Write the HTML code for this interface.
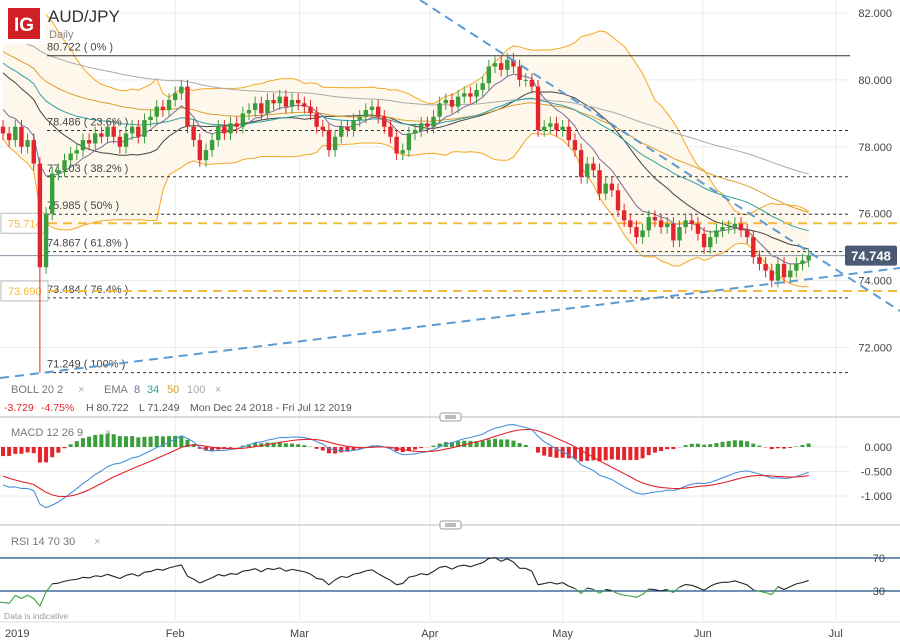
<!DOCTYPE html>
<html><head><meta charset="utf-8"><style>
body{margin:0;background:#fff;font-family:"Liberation Sans",sans-serif;}
svg{display:block}
text{font-family:"Liberation Sans",sans-serif;}
</style></head><body>
<svg id="c" width="900" height="641" viewBox="0 0 900 641"></svg>
<script>
const preHistory=[81.9,81.7,81.8,81.5,81.3,81.6,81.2,81.0,81.1,80.8,80.6,80.9,80.5,80.2,80.4,80.0,79.7,79.5,79.2,79.0,78.8,78.6];
const closes=[78.4,78.2,78.6,78.0,78.2,77.5,74.4,76.0,77.2,77.3,77.6,77.8,77.9,78.2,78.1,78.4,78.3,78.6,78.3,78.0,78.4,78.6,78.3,78.8,78.9,79.2,79.1,79.4,79.6,79.8,78.6,78.2,77.6,77.9,78.2,78.6,78.4,78.7,78.6,79.0,79.1,79.3,79.0,79.4,79.3,79.5,79.2,79.4,79.3,79.2,79.0,78.6,78.5,77.9,78.3,78.6,78.5,78.8,78.9,79.1,79.2,78.9,78.6,78.3,77.8,77.9,78.4,78.5,78.7,78.6,78.9,79.3,79.4,79.2,79.5,79.6,79.5,79.7,79.9,80.4,80.5,80.3,80.6,80.4,80.0,80.0,79.8,78.5,78.6,78.7,78.5,78.6,78.2,77.9,77.1,77.5,77.3,76.6,76.9,76.7,76.1,75.8,75.6,75.3,75.5,75.9,75.8,75.6,75.7,75.2,75.6,75.8,75.7,75.4,75.0,75.3,75.5,75.6,75.6,75.7,75.5,75.3,74.7,74.5,74.3,74.0,74.5,74.1,74.3,74.5,74.6,74.748];
const firstOpen=78.6;
const crashIndex=6, crashLow=71.249;
const fibLevels=[80.722,78.486,77.103,75.985,74.867,73.484,71.249];
const fibLabels=["80.722 ( 0% )","78.486 ( 23.6% )","77.103 ( 38.2% )","75.985 ( 50% )","74.867 ( 61.8% )","73.484 ( 76.4% )","71.249 ( 100% )"];
const orangeLevels=[75.714,73.690];
const priceTicks=[82,80,78,76,74,72];
const macdTicks=[0,-0.5,-1];
const monthLabels=["2019","Feb","Mar","Apr","May","Jun","Jul"];
const monthIdx=[-0.4,28,48.2,69.4,91,113.8,135.4];
const lastPrice=74.748;

const S=document.getElementById('c');const NS="http://www.w3.org/2000/svg";
function el(t,a,p){const e=document.createElementNS(NS,t);for(const k in a)e.setAttribute(k,a[k]);(p||S).appendChild(e);return e;}
const X=i=>3+i*6.15;
const Y=v=>13+(82-v)*33.45;
const MY=v=>447-v*49;
const RY=v=>591-(v-30)*33/40;

const grid=el('g',{});
priceTicks.forEach(v=>el('line',{x1:0,x2:850,y1:Y(v),y2:Y(v),stroke:'#ececec'},grid));
macdTicks.forEach(v=>el('line',{x1:0,x2:850,y1:MY(v),y2:MY(v),stroke:'#ececec'},grid));
monthIdx.forEach((m,k)=>{if(k>0)el('line',{x1:X(m),x2:X(m),y1:0,y2:620,stroke:'#ececec'},grid);});

const all=preHistory.concat(closes);const P=preHistory.length;
function ema(arr,n){const k=2/(n+1);let r=[],e=arr[0];arr.forEach(v=>{e=v*k+e*(1-k);r.push(e);});return r;}
function path(vals,fy,start){let d='';vals.forEach((v,i)=>{if(i<start||v==null)return;d+=(d?'L':'M')+X(i-P).toFixed(1)+','+fy(v).toFixed(1);});return d;}
const sma=[],up=[],lo=[];
all.forEach((v,i)=>{const s=all.slice(Math.max(0,i-19),i+1);const m=s.reduce((a,b)=>a+b,0)/s.length;const sd=Math.sqrt(s.reduce((a,b)=>a+(b-m)*(b-m),0)/s.length);sma.push(m);up.push(m+2*sd);lo.push(m-2*sd);});
let band='';for(let i=P;i<all.length;i++)band+=(band?'L':'M')+X(i-P)+','+Y(up[i]);for(let i=all.length-1;i>=P;i--)band+='L'+X(i-P)+','+Y(lo[i]);
const clipR=el('clipPath',{id:'mc'});el('rect',{x:0,y:0,width:850,height:378},clipR);
const ind=el('g',{'clip-path':'url(#mc)'});
el('path',{d:band+'Z',fill:'#fef8ec',stroke:'none'},ind);
el('path',{d:path(up,Y,P),fill:'none',stroke:'#f5a623','stroke-width':1},ind);
el('path',{d:path(lo,Y,P),fill:'none',stroke:'#f5a623','stroke-width':1},ind);
el('path',{d:path(sma,Y,P),fill:'none',stroke:'#444','stroke-width':1},ind);
[[100,'#aaaaaa'],[50,'#d9a030'],[34,'#2aa0a0'],[8,'#7a6a9a']].forEach(([n,c])=>{const p=el('path',{d:path(ema(all,n),Y,P),fill:'none',stroke:c,'stroke-width':1},ind);});

fibLevels.forEach((v,k)=>{const l=el('line',{x1:47,x2:850,y1:Y(v),y2:Y(v),stroke:'#333','stroke-dasharray':k==0?'':'3,3','stroke-width':1});
const t=el('text',{x:47,y:Y(v)-5,'font-size':11,fill:'#444'});t.textContent=fibLabels[k];});
orangeLevels.forEach(v=>{const l=el('line',{x1:48,x2:900,y1:Y(v),y2:Y(v),stroke:'#f5b942','stroke-dasharray':'9,6','stroke-width':2});
const r=el('rect',{x:1,y:Y(v)-10,width:47,height:20,fill:'#fff',stroke:'#bbb'});
const t=el('text',{x:8,y:Y(v)+4,'font-size':11,fill:'#f5b942'});t.textContent=v.toFixed(3);});
el('line',{x1:0,x2:850,y1:Y(lastPrice),y2:Y(lastPrice),stroke:'#8a94a6','stroke-width':1});

const cg=el('g',{});
closes.forEach((c,i)=>{const o=i?closes[i-1]:firstOpen;const col=c>=o?'#3a9e3a':'#e3242b';const hi=Math.max(o,c)+0.2;const lw=i==crashIndex?crashLow:Math.min(o,c)-0.2;
const w=el('line',{x1:X(i),x2:X(i),y1:Y(hi),y2:Y(lw),stroke:col,'stroke-width':1},cg);
const b=el('rect',{x:X(i)-2.2,y:Y(Math.max(o,c)),width:4.4,height:Math.max(1,Math.abs(Y(o)-Y(c))),fill:col},cg);});

const t1=el('line',{x1:420,y1:0,x2:900,y2:311,stroke:'#5b9bd5','stroke-width':2,'stroke-dasharray':'9,6'});
const t2=el('line',{x1:0,y1:378,x2:900,y2:268,stroke:'#5b9bd5','stroke-width':2,'stroke-dasharray':'9,6'});

priceTicks.forEach(v=>{const t=el('text',{x:892,y:Y(v)+4,'font-size':11,fill:'#444','text-anchor':'end'});t.textContent=v.toFixed(3);});
const pb=el('rect',{x:845,y:Y(lastPrice)-10,width:52,height:20,rx:2,fill:'#4a5a72'});
const pt=el('text',{x:871,y:Y(lastPrice)+5,'font-size':13,'font-weight':'bold',fill:'#fff','text-anchor':'middle'});pt.textContent=lastPrice.toFixed(3);

el('rect',{x:0,y:0,width:46,height:44,fill:'#fff'});
const lg=el('rect',{x:8,y:8,width:32,height:31,fill:'#d01f25'});
const lt=el('text',{x:24,y:31,'font-size':19,'font-weight':'bold',fill:'#fff','text-anchor':'middle'});lt.textContent='IG';
const ti=el('text',{x:48,y:22,'font-size':17,fill:'#333'});ti.textContent='AUD/JPY';
const da=el('text',{x:49,y:38,'font-size':11,fill:'#888'});da.textContent='Daily';

function tx(x,y,s,c,n,sz){const t=el('text',{x:x,y:y,'font-size':sz||11,fill:c});t.textContent=s;return t;}
tx(11,393,'BOLL  20  2','#777','boll-legend');tx(78,393,'×','#aaa','boll-remove');
tx(104,393,'EMA','#777','ema-legend');tx(134,393,'8','#7a6a9a','ema8-legend');tx(147,393,'34','#2aa0a0','ema34-legend');tx(167,393,'50','#d9a030','ema50-legend');tx(187,393,'100','#aaa','ema100-legend');tx(215,393,'×','#aaa','ema-remove');
tx(4,411,'-3.729','#e3242b','change',10.5);tx(41,411,'-4.75%','#e3242b','change-pct',10.5);tx(86,411,'H 80.722','#555','high',10.5);tx(139,411,'L 71.249','#555','low',10.5);tx(190,411,'Mon Dec 24 2018 - Fri Jul 12 2019','#555','date-range',10.5);

[417,525].forEach(y=>{el('line',{x1:0,x2:900,y1:y,y2:y,stroke:'#bbb'});const h=el('rect',{x:440,y:y-4,width:21,height:8,rx:2,fill:'#fff',stroke:'#999'});el('line',{x1:445,x2:456,y1:y-1,y2:y-1,stroke:'#777'});el('line',{x1:445,x2:456,y1:y+1,y2:y+1,stroke:'#777'});});

const e12=ema(all,12),e26=ema(all,26);const macd=all.map((v,i)=>e12[i]-e26[i]);const sig=ema(macd,9);
const mg=el('g',{});
for(let i=P;i<all.length;i++){const h=macd[i]-sig[i];const r=el('rect',{x:X(i-P)-2,y:Math.min(MY(0),MY(h)),width:4,height:Math.abs(MY(h)-MY(0)),fill:h>=0?'#3a9e3a':'#e3242b'},mg);}
const ml=el('path',{d:path(macd,MY,P),fill:'none',stroke:'#4a90d9','stroke-width':1.1});
const sl=el('path',{d:path(sig,MY,P),fill:'none',stroke:'#e3242b','stroke-width':1.1});
macdTicks.forEach(v=>{const t=el('text',{x:892,y:MY(v)+4,'font-size':11,fill:'#444','text-anchor':'end'});t.textContent=v.toFixed(3);});
tx(11,436,'MACD  12  26  9','#777','macd-legend');tx(105,436,'×','#aaa','macd-remove');

const rsi=[];let ag=0,al=0;for(let i=1;i<all.length;i++){const d=all[i]-all[i-1];const g=Math.max(d,0),l=Math.max(-d,0);if(i<=14){ag+=g/14;al+=l/14;rsi[i]=null;}else{ag=(ag*13+g)/14;al=(al*13+l)/14;rsi[i]=100-100/(1+ag/(al||1e-9));}}
[70,30].forEach(v=>{el('line',{x1:0,x2:900,y1:RY(v),y2:RY(v),stroke:'#1f4e8c','stroke-width':1.2});const t=el('text',{x:885,y:RY(v)+4,'font-size':11,fill:'#444','text-anchor':'end'});t.textContent=v;});
for(let i=P;i<all.length;i++){if(rsi[i]==null||rsi[i-1]==null)continue;const c=(rsi[i]<30||rsi[i-1]<30)?'#3a9e3a':'#222';const s=el('line',{x1:X(i-1-P),y1:RY(rsi[i-1]),x2:X(i-P),y2:RY(rsi[i]),stroke:c,'stroke-width':1.1});}
tx(11,545,'RSI  14  70  30','#777','rsi-legend');tx(94,545,'×','#aaa','rsi-remove');
tx(4,619,'Data is indicative','#999','disclaimer',8.5);
el('line',{x1:0,x2:900,y1:622,y2:622,stroke:'#ddd'});
monthLabels.forEach((m,k)=>{const t=el('text',{x:k==0?5:X(monthIdx[k]),y:637,'font-size':11,fill:'#444','text-anchor':k==0?'start':'middle'});t.textContent=m;});
</script>
</body></html>
